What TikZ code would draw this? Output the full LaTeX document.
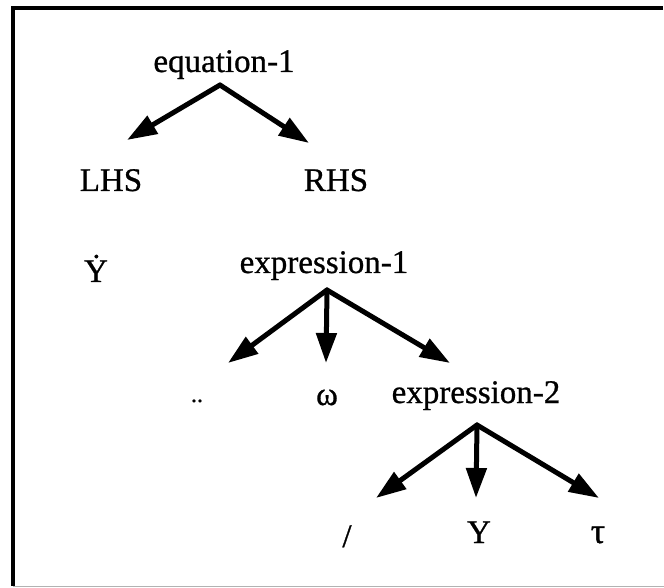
\documentclass[tikz,border=0pt]{standalone}
\usepackage{fontspec}
\setmainfont{Liberation Serif}[UprightFeatures={FakeBold=0.8}]
\usetikzlibrary{arrows.meta, positioning}

\begin{document}
\begin{tikzpicture}[
    x=0.5pt, y=-0.5pt,
    term/.style={anchor=base, inner sep=0pt, font=\fontsize{16.5}{18}\selectfont},
    arrow/.style={-{Triangle[length=15pt, width=10pt]}, line width=2.5pt, line cap=round, line join=round}
]
    \useasboundingbox (0,0) rectangle (664,588);

    % Frame
    \draw[line width=1.8pt] (663,8) -| (13,586);
    \draw[gray!60, line width=0.5pt] (13,586) -- (664,586);

    % Level 1
    \node[term] (eqn) at (224,72) {equation-1};
    \node[term] (lhs) at (111,191) {LHS};
    \node[term] (rhs) at (336,191) {RHS};

    % Level 2
    \node[term] (ydot) at (96,282) {\.{Y}};
    \node[term] (expr1) at (324,273) {expression-1};
    \node[term, font=\fontsize{12}{14}\selectfont] (ddot) at (197,402) {..};
    \node[term] (omega) at (327,405) {ω};
    \node[term] (expr2) at (476,403) {expression-2};

    % Level 3
    \node[term] (slash) at (347,547) {/};
    \node[term] (yy) at (479,543) {Y};
    \node[term, font=\fontsize{18}{20}\selectfont] (tau) at (598,543) {τ};

    % Branch points and arrow ends
    \coordinate (eqnroot) at (220,85);
    \coordinate (lhstip) at (127,140);
    \coordinate (rhstip) at (309,143);
    \coordinate (expr1root) at (327,290);
    \coordinate (ddottip) at (228,363);
    \coordinate (omegatip) at (326,363);
    \coordinate (expr2tip) at (450,363);
    \coordinate (expr2root) at (477,425);
    \coordinate (slashtip) at (376,498);
    \coordinate (yytip) at (476,498);
    \coordinate (tautip) at (599,498);

    % Arrows
    \draw[arrow] (eqnroot) -- (lhstip);
    \draw[arrow] (eqnroot) -- (rhstip);
    \draw[arrow] (expr1root) -- (ddottip);
    \draw[arrow] (expr1root) -- (omegatip);
    \draw[arrow] (expr1root) -- (expr2tip);
    \draw[arrow] (expr2root) -- (slashtip);
    \draw[arrow] (expr2root) -- (yytip);
    \draw[arrow] (expr2root) -- (tautip);
\end{tikzpicture}
\end{document}
